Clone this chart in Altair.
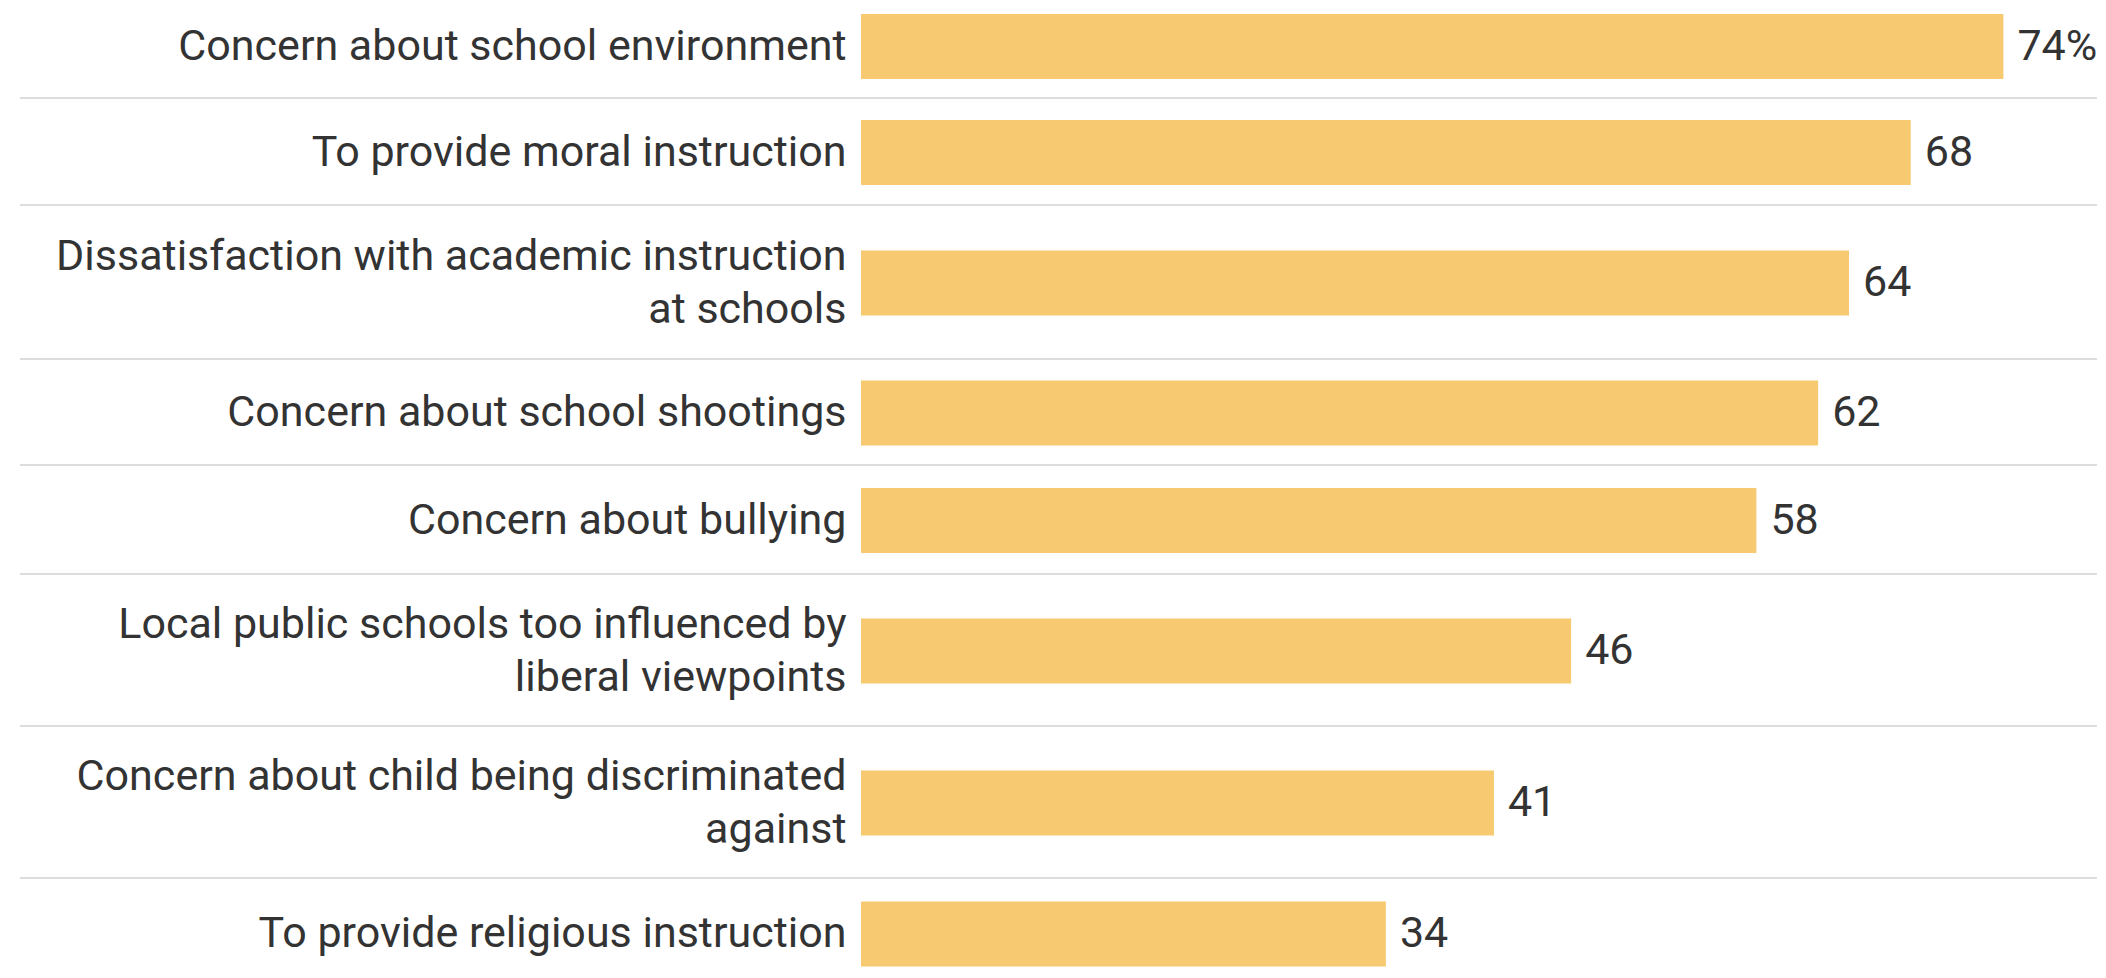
import altair as alt
import pandas as pd

# ---- data ----
categories = [
    "Concern about school environment",
    "To provide moral instruction",
    "Dissatisfaction with academic instruction|at schools",
    "Concern about school shootings",
    "Concern about bullying",
    "Local public schools too influenced by|liberal viewpoints",
    "Concern about child being discriminated|against",
    "To provide religious instruction",
]
values = [74, 68, 64, 62, 58, 46, 41, 34]
value_labels = ["74%", "68", "64", "62", "58", "46", "41", "34"]

# ---- layout (not data) ----
row_heights = [91, 107, 154, 106, 109, 152, 152, 86]
row_pad_outer = [0.0909, 0, 0, 0, 0, 0, 0, 0.1935]
row_align = [0, 0.5, 0.5, 0.5, 0.5, 0.5, 0.5, 1]

BAR_COLOR = "#F7CA72"
TEXT_COLOR = "#333333"
FONT = "Roboto"
FS = 43
LINE_H = 53
PLOT_W = 1235


def make_row(i):
    df = pd.DataFrame({
        "label": [categories[i]],
        "value": [values[i]],
        "text": [value_labels[i]],
    })
    h = row_heights[i]
    n_lines = len(categories[i].split("|"))
    y = alt.Y(
        "label:N",
        title=None,
        sort=None,
        scale=alt.Scale(paddingInner=0, paddingOuter=row_pad_outer[i], align=row_align[i]),
        axis=alt.Axis(
            ticks=False,
            domain=False,
            grid=False,
            labelPadding=15,
            labelLimit=1000,
            labelFont=FONT,
            labelFontSize=FS,
            labelColor=TEXT_COLOR,
            labelLineHeight=LINE_H,
            labelAlign="right",
            labelBaseline="middle",
            labelOffset=-(n_lines - 1) * LINE_H / 2,
            labelExpr="split(datum.label, '|')",
            minExtent=848,
            maxExtent=848,
        ),
    )
    x = alt.X("value:Q", scale=alt.Scale(domain=[0, 80]), axis=None)
    base = alt.Chart(df)
    bars = base.mark_bar(color=BAR_COLOR, size=65).encode(x=x, y=y)
    text = base.mark_text(
        align="left", baseline="middle", dx=14, font=FONT, fontSize=FS, color=TEXT_COLOR
    ).encode(x=x, y=y, text="text:N")
    layers = []
    if i < len(categories) - 1:
        rule = base.mark_rule(color="#dddddd", strokeWidth=2).encode(
            x=alt.value(-841), x2=alt.value(PLOT_W + 1), y=alt.value(h - 1)
        )
        layers.append(rule)
    layers += [bars, text]
    return alt.layer(*layers).properties(width=PLOT_W, height=h)


rows = [make_row(i) for i in range(len(categories))]

chart = (
    alt.vconcat(*rows, spacing=0)
    .resolve_scale(x="independent", y="independent")
    .properties(padding={"left": 5, "top": 0, "right": 0, "bottom": 0})
    .configure_view(strokeWidth=0)
)

chart.save("out.html", embed_options={"renderer": "svg", "actions": False})
